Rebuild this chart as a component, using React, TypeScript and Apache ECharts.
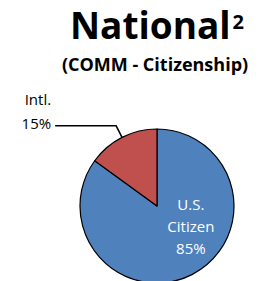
import React, { useEffect, useRef } from "react";
import * as echarts from "echarts";

const categories = ["U.S.\nCitizen", "Intl."];
const values = [85, 15];
const colors = ["#4F81BD", "#C0504D"];
const titleMain = "National";
const titleSup = "2";
const subtitle = "(COMM - Citizenship)";

const CENTER = [157, 206];
const RADIUS = 77;

export default function App() {
  const ref = useRef<HTMLDivElement>(null);
  useEffect(() => {
    document.body.style.margin = "0";
    const chart = echarts.init(ref.current!, null, { renderer: "svg" });
    const font = "'Open Sans', 'Liberation Sans', sans-serif";
    const total = values.reduce((a, b) => a + b, 0);
    chart.setOption({
      animation: false,
      title: [
        {
          text: `{m|${titleMain}}{s|${titleSup}}`,
          left: 157,
          top: 2,
          padding: 0,
          textAlign: "center",
          textStyle: {
            rich: {
              m: { fontFamily: font, fontWeight: "bold", fontSize: 37, color: "#000", lineHeight: 44 },
              s: { fontFamily: font, fontWeight: "bold", fontSize: 20, color: "#000", verticalAlign: "top", lineHeight: 20, padding: [9, 0, 0, 2] },
            },
          },
        },
        {
          text: subtitle,
          left: 155,
          top: 54,
          padding: 0,
          textAlign: "center",
          textStyle: { fontFamily: font, fontWeight: "bold", fontSize: 18, lineHeight: 20, color: "#000" },
        },
      ],
      series: [
        {
          type: "pie",
          center: CENTER,
          radius: RADIUS,
          startAngle: 90,
          clockwise: true,
          avoidLabelOverlap: false,
          itemStyle: { borderColor: "#000", borderWidth: 1.2 },
          data: categories.map((c, i) => ({
            name: c,
            value: values[i],
            itemStyle: { color: colors[i] },
            label:
              i === 0
                ? {
                    show: true,
                    position: "inside",
                    formatter: "{b}\n{d}%",
                    color: "#fff",
                    fontFamily: font,
                    fontSize: 15,
                    lineHeight: 22,
                    offset: [15, -17],
                  }
                : {
                    show: true,
                    position: "outside",
                    formatter: "{a|{b}}\n{a|{d}%}\n{e| }",
                    distanceToLabelLine: 4,
                    rich: {
                      a: { color: "#000", fontFamily: font, fontSize: 15, lineHeight: 24, align: "right" },
                      e: { fontSize: 10, lineHeight: 30 },
                    },
                  },
            labelLine:
              i === 0
                ? { show: false }
                : { show: true, length: 13, length2: 61, lineStyle: { color: "#000", width: 1.5 } },
          })),
        },
      ],
      labelLayout: (params: any) => {
        if (params.dataIndex !== 1) return {};
        const before = values.slice(0, params.dataIndex).reduce((a, b) => a + b, 0);
        const mid = ((before + values[params.dataIndex] / 2) / total) * Math.PI * 2;
        const ex = CENTER[0] + RADIUS * Math.sin(mid);
        const ey = CENTER[1] - RADIUS * Math.cos(mid);
        const lr = params.labelRect;
        const endX = lr.x + lr.width + 4;
        const lineY = lr.y + 24 * 2 - 9 + 7;
        return {
          labelLinePoints: [
            [ex, ey],
            [endX + 13, lineY],
            [endX, lineY],
          ],
        };
      },
    });
    return () => chart.dispose();
  }, []);
  return <div ref={ref} style={{ width: 260, height: 281 }} />;
}
